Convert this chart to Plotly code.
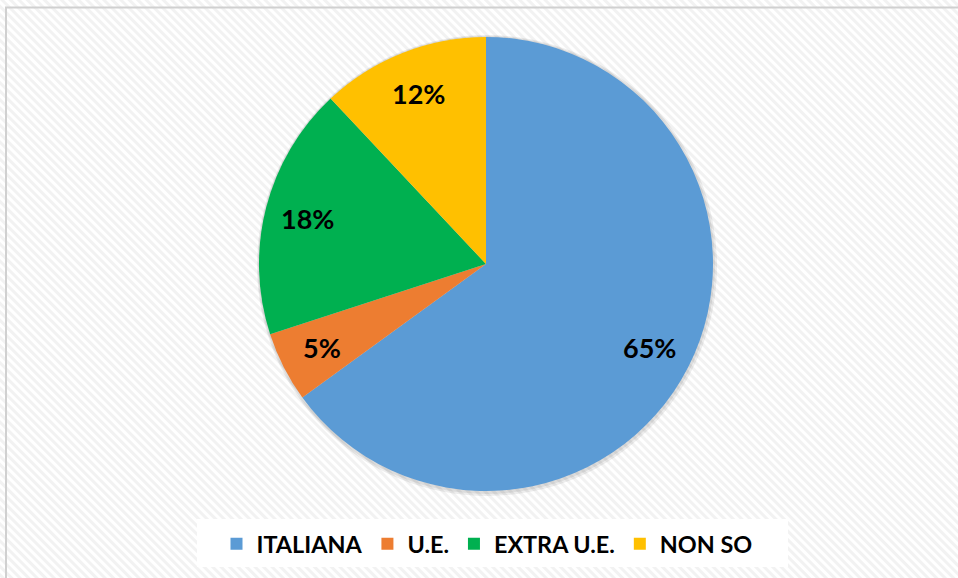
import math
import base64
import plotly.graph_objects as go

categories = ["ITALIANA", "U.E.", "EXTRA U.E.", "NON SO"]
values = [65, 5, 18, 12]
colors = ["#5B9BD5", "#ED7D31", "#00B050", "#FFC000"]

W, H = 958, 578
# pie geometry in pixels
CX, CY, R = 486, 264, 227
LABEL_R = 0.81

svg = f'''<svg xmlns="http://www.w3.org/2000/svg" width="{W}" height="{H}">
<defs><pattern id="p" width="6" height="6" patternUnits="userSpaceOnUse" patternTransform="rotate(-45)">
<rect width="6" height="6" fill="#ffffff"/><rect width="3" height="6" fill="#f2f2f2"/></pattern></defs>
<rect width="{W}" height="{H}" fill="url(#p)"/></svg>'''
src = "data:image/svg+xml;base64," + base64.b64encode(svg.encode()).decode()

fig = go.Figure()
fig.add_trace(go.Pie(
    labels=categories, values=values, sort=False, direction="clockwise", rotation=0,
    marker=dict(colors=colors, line=dict(width=0)),
    textinfo="none",
    domain=dict(x=[(CX - R) / W, (CX + R) / W], y=[(H - CY - R) / H, (H - CY + R) / H]),
    hoverinfo="label+percent",
))

# data labels placed at the middle angle of each slice (derived from values)
total = sum(values)
annotations = []
cum = 0
for v in values:
    mid = (cum + v / 2) / total * 2 * math.pi
    cum += v
    px = CX + LABEL_R * R * math.sin(mid)
    py = CY - LABEL_R * R * math.cos(mid)
    annotations.append(dict(
        x=px / W, y=(H - py) / H, xref="paper", yref="paper",
        text=f"{round(v / total * 100)}%", showarrow=False,
        font=dict(family="Lato", size=27, color="black", weight="bold"),
        xanchor="center", yanchor="middle",
    ))

shapes = [
    dict(type="circle", xref="paper", yref="paper",
         x0=(CX - R - 2) / W, x1=(CX + R + 4) / W, y0=(H - CY - R - 5) / H, y1=(H - CY + R + 2) / H,
         fillcolor="rgba(0,0,0,0.07)", line=dict(width=0), layer="below"),
    dict(type="circle", xref="paper", yref="paper",
         x0=(CX - R - 1) / W, x1=(CX + R + 2) / W, y0=(H - CY - R - 3) / H, y1=(H - CY + R + 1) / H,
         fillcolor="rgba(0,0,0,0.07)", line=dict(width=0), layer="below"),
    dict(type="rect", xref="paper", yref="paper", x0=197 / W, x1=788 / W, y0=(H - 567) / H, y1=(H - 519) / H,
         fillcolor="white", line=dict(width=0), layer="below"),
    dict(type="rect", xref="paper", yref="paper", x0=6 / W, x1=(W + 10) / W, y0=-10 / H, y1=(H - 7.5) / H,
         fillcolor="rgba(0,0,0,0)", line=dict(color="#d0d0d0", width=2)),
]

fig.update_layout(
    width=W, height=H, margin=dict(l=0, r=0, t=0, b=0),
    paper_bgcolor="white", plot_bgcolor="white",
    images=[dict(source=src, xref="paper", yref="paper", x=0, y=1, sizex=1, sizey=1,
                 sizing="stretch", layer="below", xanchor="left", yanchor="top")],
    shapes=shapes,
    annotations=annotations,
    showlegend=True,
    legend=dict(orientation="h", x=487 / W, xanchor="center", y=(H - 544) / H, yanchor="middle",
                bgcolor="rgba(0,0,0,0)", font=dict(family="Lato", size=23.4, color="black", weight="bold"),
                traceorder="normal"),
)

fig.write_html("out.html", config={"displayModeBar": False},
               post_script="document.body.style.margin='0';document.body.style.overflow='hidden';")
